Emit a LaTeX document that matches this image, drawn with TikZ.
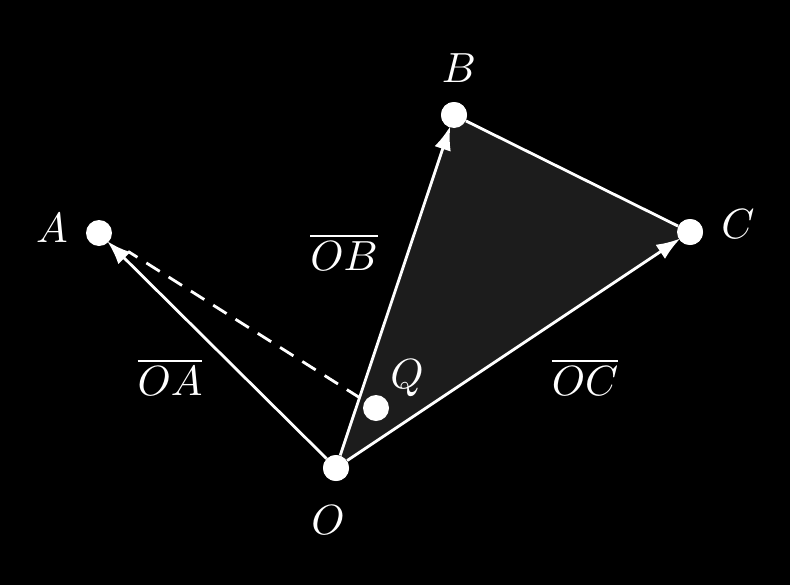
\documentclass[tikz,border=0pt]{standalone}
\usepackage{tikz}
\usetikzlibrary{arrows.meta}
\tikzstyle{pt}=[circle, fill=white, inner sep=0pt, minimum size=0.52cm]
\tikzstyle{lbl}=[text=white, scale=2.4]
\tikzstyle{vec}=[draw=white, line width=1.6pt, -{Latex[length=0.48cm,width=0.34cm]}, shorten >=-1pt]

\begin{document}
\begin{tikzpicture}[x=0.02cm, y=-0.02cm]

\fill[black] (0,0) rectangle (790,585);
\useasboundingbox (0,0) rectangle (790,585);

\node[pt] (O) at (336,468) {};
\node[pt] (A) at (99,233) {};
\node[pt] (B) at (454,115) {};
\node[pt] (C) at (690,232) {};

\fill[black!89] (O.center) -- (B.center) -- (C.center) -- cycle;
\draw[white, line width=1.6pt] (B) -- (C);
\draw[vec] (O) -- (A);
\draw[vec] (O) -- (B);
\draw[vec] (O) -- (C);
\node[pt] (Q) at (376,408) {};
\draw[white, line width=1.6pt, dashed, dash pattern=on 9pt off 6pt, shorten <=3pt, shorten >=12pt] (Q) -- (A);
\node[pt] at (O) {};
\node[pt] at (B) {};
\node[pt] at (C) {};

\node[lbl] (lO) at (328,520) {$O$};
\node[lbl] (lA) at (52,228) {$A$};
\node[lbl] (lB) at (459,68) {$B$};
\node[lbl] (lC) at (738,224) {$C$};
\node[lbl] (lQ) at (407,378) {$Q$};
\node[lbl] (lOA) at (170,377) {$\overline{OA}$};
\node[lbl] (lOB) at (344,252) {$\overline{OB}$};
\node[lbl] (lOC) at (585,377) {$\overline{OC}$};

\end{tikzpicture}
\end{document}
